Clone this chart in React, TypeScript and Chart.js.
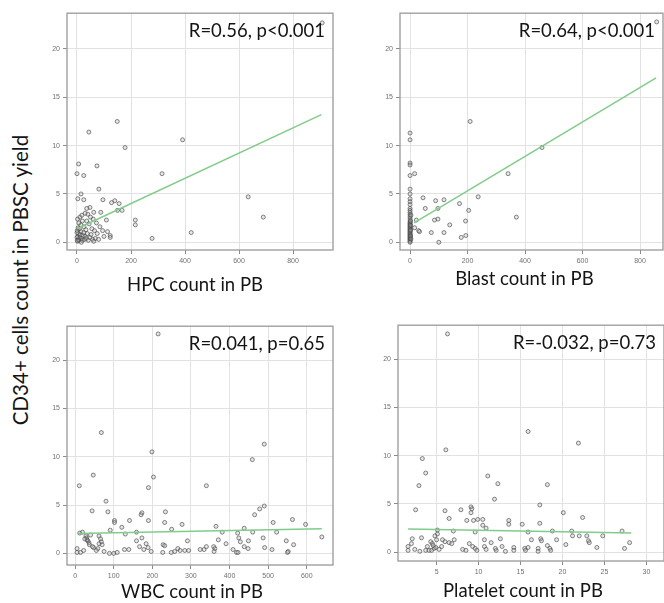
import React, { useEffect, useRef } from "react";
import { Chart, registerables } from "chart.js";

Chart.register(...registerables);

type Pt = [number, number];

// ---------- DATA ----------
const yTicks: number[] = [0, 5, 10, 15, 20];
const hpcTicks: number[] = [0, 200, 400, 600, 800];
const blastTicks: number[] = [0, 200, 400, 600, 800];
const wbcTicks: number[] = [0, 100, 200, 300, 400, 500, 600];
const pltTicks: number[] = [5, 10, 15, 20, 25, 30];

const yTitle = "CD34+ cells count in PBSC yield";

const hpcPoints: Pt[] = [
  [908, 22.7], [149, 12.5], [44, 11.4], [178, 9.8], [391, 10.6], [6, 8.1], [74, 7.9], [0, 7.1],
  [25, 6.9], [315, 7.1], [81, 5.5], [15, 5.0], [3, 4.5], [25, 4.4], [96, 4.4], [140, 4.3],
  [128, 4.1], [156, 4.0], [150, 3.3], [167, 3.3], [48, 3.6], [36, 3.5], [62, 3.1], [88, 3.1],
  [216, 2.3], [216, 1.8], [109, 2.3], [278, 0.4], [423, 1.0], [113, 1.1], [123, 0.7], [123, 0.5],
  [634, 4.7], [690, 2.6],
  [2, 0.1], [5, 0.3], [8, 0.2], [3, 0.6], [10, 0.5], [6, 0.9], [12, 0.8], [1, 1.2], [15, 1.1],
  [4, 1.5], [9, 1.4], [18, 0.4], [20, 0.2], [22, 0.7], [25, 1.0], [28, 0.3], [30, 0.6], [14, 1.8],
  [7, 2.0], [2, 2.4], [11, 2.6], [20, 2.2], [26, 1.6], [33, 1.3], [35, 0.4], [38, 0.9], [40, 2.9],
  [42, 0.2], [45, 1.9], [48, 0.5], [52, 0.8], [55, 1.4], [58, 0.3], [60, 2.4], [65, 1.2], [68, 0.4],
  [72, 2.0], [75, 0.9], [80, 0.3], [85, 1.6], [30, 3.0], [18, 2.8], [50, 2.6], [0, 1.0], [0, 0.5],
  [1, 0.2], [16, 0.0], [36, 2.2], [95, 1.2], [100, 0.6], [62, 0.1],
];
const hpcFit: Pt[] = [[0, 1.4], [905, 13.2]];

const blastPoints: Pt[] = [
  [858, 22.8], [209, 12.5], [459, 9.8], [341, 7.1],
  [0, 11.3], [0, 10.6], [0, 8.2], [0, 8.0], [0, 6.9], [0, 5.5], [0, 5.0], [0, 4.5], [0, 4.2],
  [0, 3.9], [0, 3.5], [0, 3.3], [0, 3.1], [0, 2.9], [0, 2.7], [0, 2.5], [0, 2.3], [0, 2.1],
  [0, 2.0], [0, 1.9], [0, 1.8], [0, 1.7], [0, 1.6], [0, 1.5], [0, 1.4], [0, 1.3], [0, 1.2],
  [0, 1.1], [0, 1.0], [0, 0.9], [0, 0.8], [0, 0.7], [0, 0.6], [0, 0.5], [0, 0.4], [0, 0.3],
  [0, 0.2], [0, 0.1], [0, 0.0], [2, 1.75], [2, 1.25], [2, 0.65], [2, 2.2], [3, 0.35], [3, 2.8],
  [16, 7.1], [45, 4.6], [89, 4.3], [118, 4.4], [172, 4.0], [237, 4.7], [53, 3.5], [97, 3.5],
  [204, 3.3], [85, 2.3], [97, 2.4], [193, 2.2], [138, 1.8], [370, 2.6], [22, 2.3], [30, 1.2],
  [33, 1.1], [74, 1.0], [118, 1.0], [178, 0.5], [194, 0.7], [100, 0.0], [16, 1.5],
];
const blastFit: Pt[] = [[14, 2.0], [856, 17.0]];

const wbcPoints: Pt[] = [
  [215, 22.7], [68, 12.5], [490, 11.3], [199, 10.5], [459, 9.7], [47, 8.1], [203, 7.9], [11, 7.0],
  [190, 6.8], [340, 7.0], [80, 5.4], [44, 4.4], [85, 4.3], [490, 4.9], [478, 4.6], [465, 4.0],
  [173, 4.2], [171, 4.0], [234, 4.3], [102, 3.4], [102, 3.2], [141, 3.4], [190, 3.4], [232, 3.2],
  [277, 3.0], [365, 2.8], [563, 3.5], [513, 3.2], [597, 3.0], [121, 2.7], [159, 2.2], [130, 2.0],
  [91, 2.4], [250, 2.5], [381, 2.2], [438, 2.6], [460, 2.2], [522, 2.2], [19, 2.2], [12, 2.1],
  [28, 1.8], [30, 1.6], [33, 1.3], [36, 1.1], [31, 1.4], [37, 0.9], [62, 1.8], [66, 1.5],
  [68, 1.2], [62, 1.0], [159, 1.3], [173, 1.6], [184, 1.0], [228, 0.9], [291, 1.3], [340, 0.7],
  [371, 1.4], [391, 1.0], [421, 2.1], [424, 1.6], [428, 1.2], [449, 1.3], [487, 1.6], [491, 0.6],
  [510, 0.4], [547, 1.3], [566, 0.9], [552, 0.2], [550, 0.1], [639, 1.7], [5, 0.5], [5, 0.1],
  [14, 0.1], [48, 0.6], [59, 0.5], [75, 0.2], [89, 0.0], [100, 0.0], [109, 0.1], [128, 0.4],
  [139, 0.4], [167, 0.7], [178, 0.4], [189, 0.6], [227, 0.1], [232, 0.8], [249, 0.1], [258, 0.2],
  [266, 0.5], [272, 0.3], [284, 0.3], [294, 0.3], [324, 0.4], [334, 0.4], [359, 0.7], [362, 0.5],
  [360, 0.2], [409, 0.4], [418, 0.1], [422, 0.1], [438, 0.7], [448, 0.5], [25, 1.5], [40, 1.9],
  [45, 0.7], [70, 0.9], [55, 0.3], [197, 0.2], [22, 0.3],
];
const wbcFit: Pt[] = [[5, 2.05], [639, 2.55]];

const pltPoints: Pt[] = [
  [6.3, 22.6], [15.9, 12.5], [21.9, 11.3], [6.1, 10.6], [3.3, 9.7], [3.7, 8.2], [2.9, 6.9],
  [11.1, 7.9], [12.3, 7.1], [18.2, 7.0], [11.9, 5.5], [17.3, 4.9], [2.5, 4.4], [6.0, 4.3],
  [7.9, 4.4], [9.1, 4.7], [9.2, 4.5], [9.1, 4.1], [20.1, 4.1], [22.4, 3.6], [6.5, 3.5], [8.6, 3.3],
  [9.4, 3.3], [9.9, 3.4], [10.5, 3.4], [13.6, 3.3], [13.6, 2.9], [15.2, 2.9], [17.3, 3.0],
  [10.5, 2.8], [10.9, 2.5], [7.0, 2.2], [5.1, 2.3], [9.6, 2.1], [15.9, 2.1], [18.8, 2.2],
  [21.1, 2.2], [27.1, 2.2], [5.1, 1.9], [4.8, 1.7], [5.0, 1.3], [21.2, 1.7], [22.0, 1.7],
  [22.9, 1.7], [24.8, 1.7], [2.1, 1.4], [3.2, 1.5], [5.7, 1.3], [6.0, 1.1], [7.1, 1.3], [6.5, 1.0],
  [4.3, 1.1], [4.5, 0.9], [10.7, 1.3], [11.5, 1.0], [12.6, 1.4], [16.3, 1.3], [17.4, 1.4],
  [17.5, 1.2], [19.3, 1.3], [23.1, 1.2], [23.2, 1.0], [24.1, 0.5], [27.4, 0.4], [28.0, 1.0],
  [1.6, 0.6], [1.6, 0.2], [2.4, 0.3], [3.7, 0.2], [4.1, 0.2], [4.4, 0.2], [4.7, 0.4], [4.9, 0.5],
  [3.9, 0.6], [4.6, 0.7], [8.1, 0.3], [8.5, 0.2], [9.3, 0.6], [9.6, 0.4], [9.8, 0.2], [10.7, 0.6],
  [10.9, 0.3], [12.1, 0.2], [12.0, 0.4], [14.2, 0.5], [14.2, 0.2], [15.5, 0.4], [15.6, 0.2],
  [15.9, 0.5], [17.1, 0.4], [17.1, 0.1], [18.2, 0.7], [18.5, 0.4], [18.6, 0.2], [20.4, 0.8],
  [5.3, 0.3], [5.6, 0.6], [6.8, 0.9], [8.9, 0.9], [12.8, 0.6], [13.2, 0.1], [3.0, 0.1], [2.0, 0.9],
];
const pltFit: Pt[] = [[1.6, 2.4], [28.2, 2.0]];

// ---------- LAYOUT / STYLE ----------
const FONT = "Lato, 'Open Sans', sans-serif";
const Y_AXIS_W = 32;
const PAD_TOP = 4;
const PAD_RIGHT = 6;
const X_AXIS_H = 20;
const PAD_BOTTOM = 30;

interface PanelSpec {
  box: { l: number; t: number; r: number; b: number };
  points: Pt[];
  fit: Pt[];
  xMin: number; xMax: number; yMin: number; yMax: number;
  xTicks: number[];
  note: string;
  xTitle: string;
  titleDx: number;
  titleDy: number;
}

const panels: PanelSpec[] = [
  {
    box: { l: 67, t: 10, r: 333, b: 250 },
    points: hpcPoints, fit: hpcFit,
    xMin: -37, xMax: 948, yMin: -0.8, yMax: 23.7,
    xTicks: hpcTicks, note: "R=0.56, p<0.001", xTitle: "HPC count in PB",
    titleDx: -5, titleDy: 41,
  },
  {
    box: { l: 400, t: 10, r: 663, b: 250 },
    points: blastPoints, fit: blastFit,
    xMin: -35, xMax: 880, yMin: -0.8, yMax: 23.7,
    xTicks: blastTicks, note: "R=0.64, p<0.001", xTitle: "Blast count in PB",
    titleDx: -7, titleDy: 35,
  },
  {
    box: { l: 67, t: 323, r: 333, b: 565 },
    points: wbcPoints, fit: wbcFit,
    xMin: -21, xMax: 668, yMin: -1.2, yMax: 23.5,
    xTicks: wbcTicks, note: "R=0.041, p=0.65", xTitle: "WBC count in PB",
    titleDx: -8, titleDy: 33,
  },
  {
    box: { l: 398, t: 322, r: 664, b: 561 },
    points: pltPoints, fit: pltFit,
    xMin: 0.4, xMax: 32.1, yMin: -0.9, yMax: 23.5,
    xTicks: pltTicks, note: "R=-0.032, p=0.73", xTitle: "Platelet count in PB",
    titleDx: -8, titleDy: 36,
  },
];

const panelPlugin = {
  id: "panelDecor",
  afterDraw(chart: any, _args: any, opts: any) {
    const { ctx, chartArea: a } = chart;
    ctx.save();
    ctx.strokeStyle = "#a0a0a0";
    ctx.lineWidth = 1.4;
    ctx.strokeRect(a.left, a.top, a.right - a.left, a.bottom - a.top);
    ctx.fillStyle = "#141414";
    ctx.font = `18.5px ${FONT}`;
    ctx.textBaseline = "alphabetic";
    ctx.textAlign = "right";
    ctx.fillText(opts.note, a.right - 8, a.top + 24);
    ctx.textAlign = "center";
    ctx.fillText(opts.xTitle, (a.left + a.right) / 2 + opts.titleDx, a.bottom + opts.titleDy);
    ctx.restore();
  },
};

function Panel({ spec }: { spec: PanelSpec }) {
  const ref = useRef<HTMLCanvasElement>(null);
  const w = spec.box.r - spec.box.l;
  const h = spec.box.b - spec.box.t;
  const cw = Y_AXIS_W + w + PAD_RIGHT;
  const ch = PAD_TOP + h + X_AXIS_H + PAD_BOTTOM;

  useEffect(() => {
    if (!ref.current) return;
    const tickFont = { family: "'Liberation Sans', sans-serif", size: 7 };
    const chart = new Chart(ref.current, {
      type: "scatter",
      data: {
        datasets: [
          {
            data: spec.fit.map(([x, y]) => ({ x, y })),
            showLine: true,
            borderColor: "#82cc8a",
            borderWidth: 1.5,
            pointRadius: 0,
            pointHoverRadius: 0,
          },
          {
            data: spec.points.map(([x, y]) => ({ x, y })),
            pointRadius: 2.0,
            borderWidth: 0.9,
            borderColor: "rgba(70,70,70,0.72)",
            backgroundColor: "rgba(175,175,175,0.3)",
          },
        ],
      },
      options: {
        animation: false,
        responsive: false,
        devicePixelRatio: 1,
        events: [],
        layout: { padding: { top: PAD_TOP, right: PAD_RIGHT, bottom: PAD_BOTTOM, left: 0 } },
        plugins: {
          legend: { display: false },
          tooltip: { enabled: false },
          panelDecor: { note: spec.note, xTitle: spec.xTitle, titleDx: spec.titleDx, titleDy: spec.titleDy },
        } as any,
        scales: {
          x: {
            type: "linear",
            min: spec.xMin,
            max: spec.xMax,
            afterBuildTicks: (s: any) => { s.ticks = spec.xTicks.map((v) => ({ value: v })); },
            afterFit: (s: any) => { s.height = X_AXIS_H; },
            ticks: { font: tickFont, color: "#707070", maxRotation: 0, autoSkip: false, padding: 3 },
            grid: { color: "#e2e2e2", lineWidth: 1, tickLength: 4, tickColor: "#8a8a8a" },
            border: { display: false },
          },
          y: {
            type: "linear",
            min: spec.yMin,
            max: spec.yMax,
            afterBuildTicks: (s: any) => { s.ticks = yTicks.map((v) => ({ value: v })); },
            afterFit: (s: any) => { s.width = Y_AXIS_W; },
            ticks: { font: tickFont, color: "#707070", autoSkip: false, padding: 3 },
            grid: { color: "#e2e2e2", lineWidth: 1, tickLength: 4, tickColor: "#8a8a8a" },
            border: { display: false },
          },
        },
      },
      plugins: [panelPlugin],
    });
    return () => chart.destroy();
  }, [spec]);

  return (
    <canvas
      ref={ref}
      width={cw}
      height={ch}
      style={{
        position: "absolute",
        left: spec.box.l - Y_AXIS_W,
        top: spec.box.t - PAD_TOP,
        width: cw,
        height: ch,
      }}
    />
  );
}

export default function App() {
  return (
    <div
      style={{
        position: "fixed",
        left: 0,
        top: 0,
        width: 664,
        height: 603,
        overflow: "hidden",
        background: "#ffffff",
      }}
    >
      {panels.map((p, i) => (
        <Panel key={i} spec={p} />
      ))}
      <div
        style={{
          position: "absolute",
          left: 20,
          top: 280,
          transform: "translate(-50%, -50%) rotate(-90deg)",
          whiteSpace: "nowrap",
          fontFamily: FONT,
          fontSize: 20.5,
          color: "#141414",
          lineHeight: 1,
        }}
      >
        {yTitle}
      </div>
    </div>
  );
}
